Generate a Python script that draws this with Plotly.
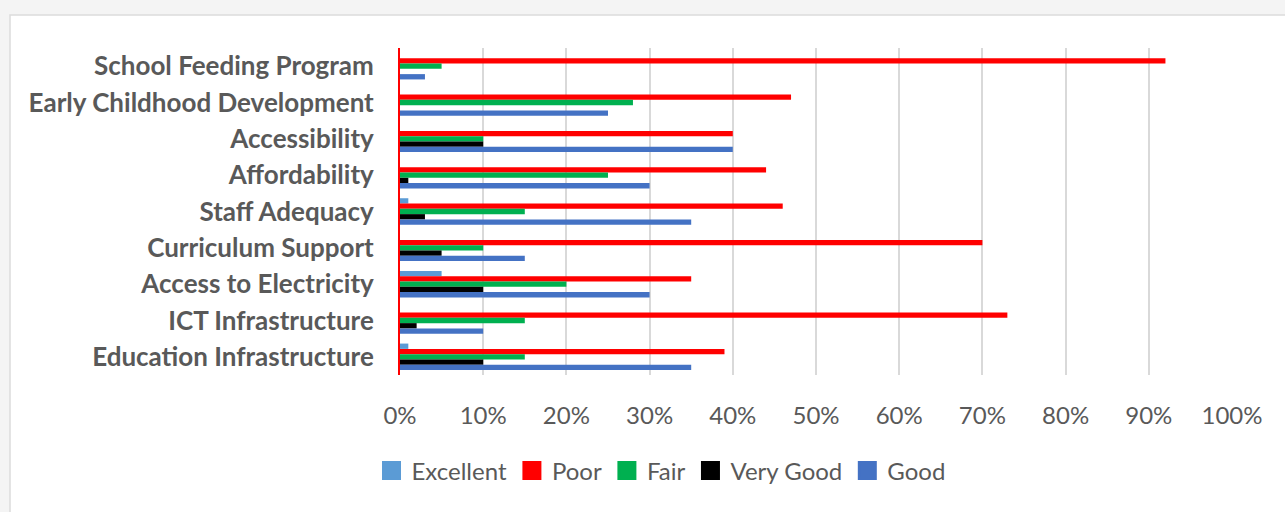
import plotly.graph_objects as go

categories = [
    "School Feeding Program",
    "Early Childhood Development",
    "Accessibility",
    "Affordability",
    "Staff Adequacy",
    "Curriculum Support",
    "Access to Electricity",
    "ICT Infrastructure",
    "Education Infrastructure",
]

excellent = [0, 0, 0, 0, 1, 0, 5, 0, 1]
poor = [92, 47, 40, 44, 46, 70, 35, 73, 39]
fair = [5, 28, 10, 25, 15, 10, 20, 15, 15]
very_good = [0, 0, 10, 1, 3, 5, 10, 2, 10]
good = [3, 25, 40, 30, 35, 15, 30, 10, 35]

series = [
    ("Excellent", excellent, "#5B9BD5"),
    ("Poor", poor, "#FF0000"),
    ("Fair", fair, "#00B050"),
    ("Very Good", very_good, "#000000"),
    ("Good", good, "#4472C4"),
]

fig = go.Figure()
for name, vals, color in series:
    fig.add_trace(go.Bar(
        y=categories, x=vals, name=name, orientation="h",
        marker=dict(color=color, line=dict(width=0)),
        showlegend=False, legendgroup=name,
    ))
# legend entries with larger square swatches
for name, vals, color in series:
    fig.add_trace(go.Scatter(
        x=[None], y=[None], mode="markers", name=name, legendgroup=name,
        marker=dict(symbol="square", size=16, color=color,
                    line=dict(color=color, width=3)),
        showlegend=True,
    ))

W, H = 1285, 512
L, R, T, B = 400, 1232, 48, 375
pw, ph = R - L, B - T

def px_x(p):
    return (p - L) / pw

def px_y(p):
    return (B - p) / ph

fig.update_layout(
    width=W, height=H,
    margin=dict(l=L, r=W - R, t=T, b=H - B, pad=0),
    paper_bgcolor="#f4f4f4",
    plot_bgcolor="#ffffff",
    barmode="group",
    bargap=0.27,
    bargroupgap=0,
    font=dict(family="Lato", color="#595959"),
    showlegend=True,
    legend=dict(
        orientation="h",
        x=px_x(661), xanchor="center",
        y=px_y(471), yanchor="middle",
        font=dict(size=24, color="#595959", family="Lato"),
        bgcolor="rgba(0,0,0,0)",
        itemwidth=30,
        itemsizing="trace",
        traceorder="normal",
    ),
    xaxis=dict(
        range=[0, 100], dtick=10, ticksuffix="%",
        showgrid=True, gridcolor="#d9d9d9", gridwidth=1.5,
        zeroline=False, showline=False, ticks="",
        tickfont=dict(size=24, color="#595959", family="Lato"),
        ticklabelstandoff=24,
        fixedrange=True,
    ),
    yaxis=dict(
        categoryorder="array", categoryarray=categories,
        autorange="reversed",
        showgrid=False, zeroline=False,
        showline=True, linecolor="#FF0000", linewidth=2,
        ticks="",
        tickfont=dict(size=26, color="#595959", family="Lato", weight="bold"),
        ticklabelstandoff=19,
        fixedrange=True,
    ),
    shapes=[
        dict(
            type="rect", xref="paper", yref="paper", layer="below",
            x0=px_x(10), x1=px_x(1300), y0=px_y(15), y1=px_y(530),
            fillcolor="#ffffff", line=dict(color="#dcdcdc", width=1.5),
        )
    ],
)

fig.write_html("out.html")
